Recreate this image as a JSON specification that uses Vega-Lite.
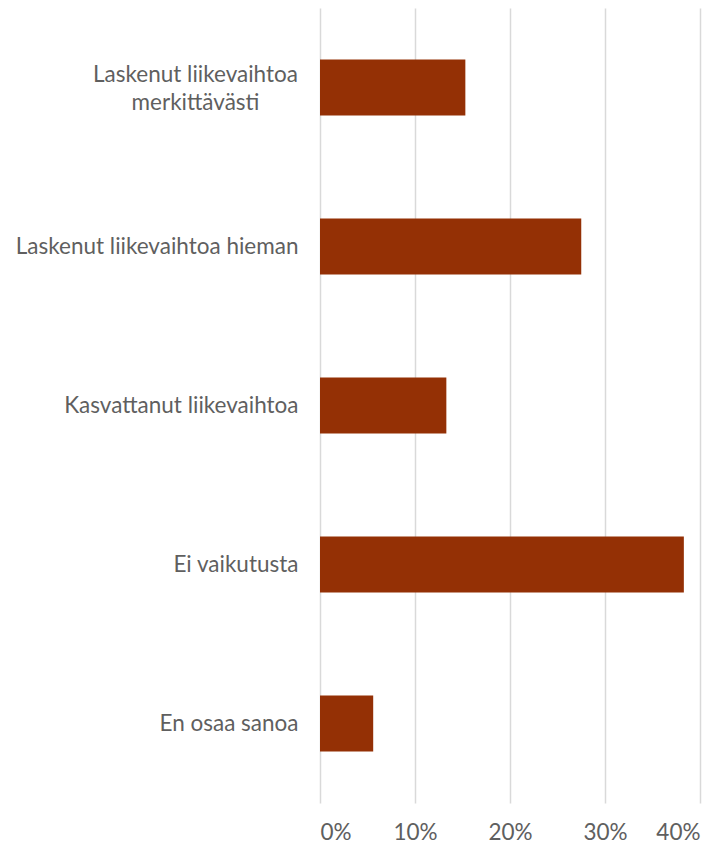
{
  "$schema": "https://vega.github.io/schema/vega-lite/v6.json",
  "width": 380,
  "height": 795,
  "autosize": "none",
  "padding": {"left": 320, "top": 8, "right": 24, "bottom": 40},
  "background": "white",
  "config": {"view": {"stroke": null}},
  "data": {"values": [
    {"cat": "Laskenut liikevaihtoa merkittävästi", "v": 0.153},
    {"cat": "Laskenut liikevaihtoa hieman", "v": 0.275},
    {"cat": "Kasvattanut liikevaihtoa", "v": 0.133},
    {"cat": "Ei vaikutusta", "v": 0.383},
    {"cat": "En osaa sanoa", "v": 0.056}
  ]},
  "mark": {"type": "bar", "color": "#943005"},
  "encoding": {
    "y": {"field": "cat", "type": "nominal", "sort": null,
      "scale": {"paddingInner": 0.648, "paddingOuter": 0.324},
      "axis": {"title": null, "domain": false, "ticks": false,
        "labelFont": "Lato", "labelFontSize": 22.5, "labelColor": "#5f5f5f",
        "labelLineHeight": 28, "labelLimit": 400,
        "labelPadding": {"condition": {"test": "datum.value == 'Laskenut liikevaihtoa merkittävästi'", "value": 125}, "value": 22},
        "labelAlign": {"condition": {"test": "datum.value == 'Laskenut liikevaihtoa merkittävästi'", "value": "center"}, "value": "right"},
        "labelOffset": {"condition": {"test": "datum.value == 'Laskenut liikevaihtoa merkittävästi'", "value": -13}, "value": 0},
        "labelExpr": "datum.value == 'Laskenut liikevaihtoa merkittävästi' ? ['Laskenut liikevaihtoa', 'merkittävästi'] : datum.value"}},
    "x": {"field": "v", "type": "quantitative",
      "scale": {"domain": [0, 0.4], "nice": false},
      "axis": {"title": null, "format": ".0%", "values": [0, 0.1, 0.2, 0.3, 0.4],
        "domain": false, "ticks": false, "grid": true, "gridColor": "#d9d9d9", "gridWidth": 1.5,
        "labelFont": "Lato", "labelFontSize": 22.5, "labelColor": "#5f5f5f", "labelPadding": 18}}
  }
}
